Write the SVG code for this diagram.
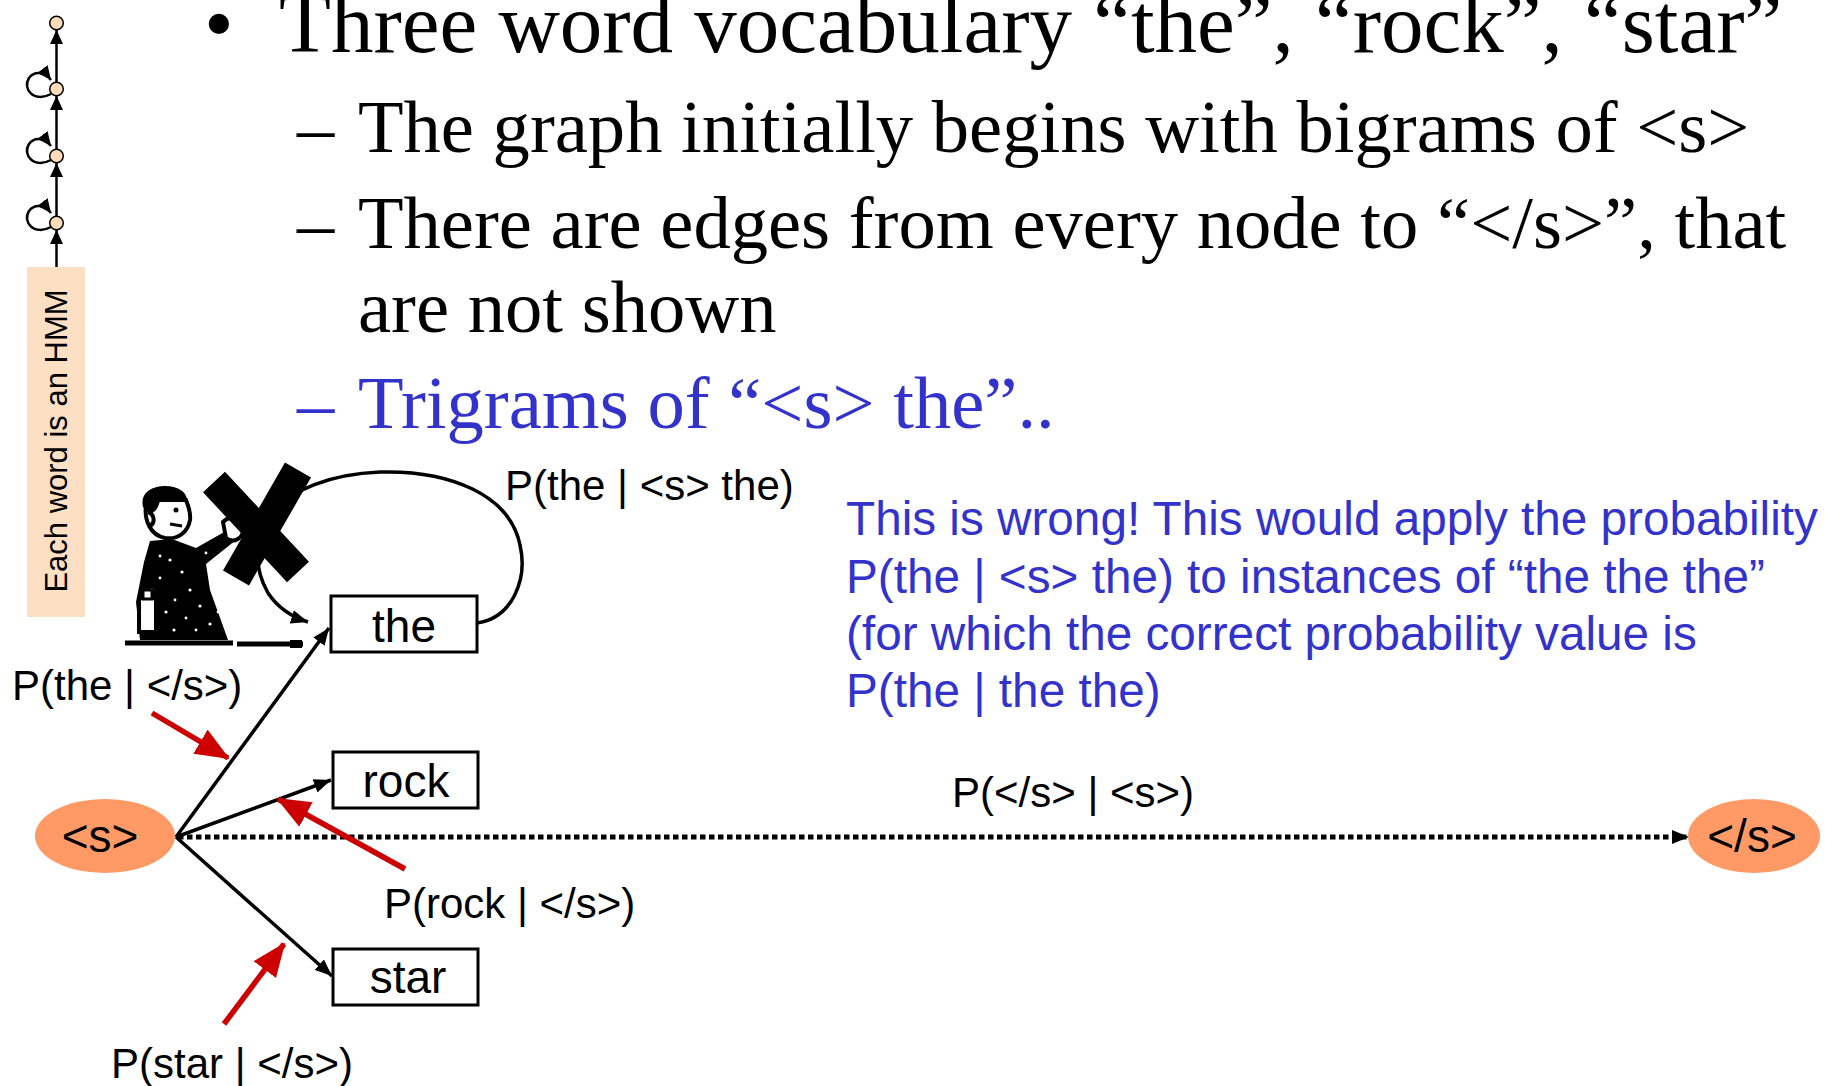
<svg xmlns="http://www.w3.org/2000/svg" width="1825" height="1086" viewBox="0 0 1825 1086">
  <style>
    .serif { font-family: "Liberation Serif", "Times New Roman", serif; fill: #000; }
    .lvl1 { font-size: 85px; }
    .lvl2 { font-size: 74.6px; }
    .sans { font-family: "Liberation Sans", Arial, sans-serif; fill: #000; }
    .lbl { font-size: 42px; }
    .word { font-size: 46px; text-anchor: middle; }
    .blue { fill: #3333CC; }
    .box { fill: #fff; stroke: #000; stroke-width: 3; }
    .edge { fill: none; stroke: #000; stroke-width: 3.5; }
    .pointer { fill: none; stroke: #CC0000; stroke-width: 5.5; }
    .state { fill: #FFDDBB; stroke: #000; stroke-width: 1.5; }
    .hmm { fill: none; stroke: #000; stroke-width: 2.5; }
    .terminal { fill: #FF9966; }
  </style>
  <defs>
    <marker id="ah" markerUnits="userSpaceOnUse" markerWidth="17" markerHeight="14" refX="17" refY="7" orient="auto">
      <path d="M0,0 L17,7 L0,14 Z" fill="#000"/>
    </marker>
    <marker id="ahSmall" markerUnits="userSpaceOnUse" markerWidth="14" markerHeight="13" refX="14" refY="6.5" orient="auto">
      <path d="M0,0 L14,6.5 L0,13 Z" fill="#000"/>
    </marker>
    <marker id="ahRed" markerUnits="userSpaceOnUse" markerWidth="34" markerHeight="28" refX="32" refY="14" orient="auto">
      <path d="M0,0 L34,14 L0,28 Z" fill="#CC0000"/>
    </marker>
  </defs>

  <rect width="1825" height="1086" fill="#fff"/>

  <!-- Slide text -->
  <g id="bullets">
    <text class="serif lvl1" x="204" y="52">•</text>
    <text class="serif lvl1" x="279" y="52">Three word vocabulary “the”, “rock”, “star”</text>
    <text class="serif lvl2" x="297" y="152">–</text>
    <text class="serif lvl2" x="358" y="152">The graph initially begins with bigrams of &lt;s&gt;</text>
    <text class="serif lvl2" x="297" y="248">–</text>
    <text class="serif lvl2" x="358" y="248">There are edges from every node to “&lt;/s&gt;”, that</text>
    <text class="serif lvl2" x="358" y="332">are not shown</text>
    <text class="serif lvl2" x="297" y="428" style="fill:#3333CC">–</text>
    <text class="serif lvl2" x="358" y="428" style="fill:#3333CC">Trigrams of “&lt;s&gt; the”..</text>
  </g>

  <!-- Word HMM sketch at the left edge -->
  <g id="word-hmm">
    <line class="hmm" x1="56.5" y1="267" x2="56.5" y2="230" marker-end="url(#ahSmall)"/>
    <line class="hmm" x1="56.5" y1="216" x2="56.5" y2="163" marker-end="url(#ahSmall)"/>
    <line class="hmm" x1="56.5" y1="149" x2="56.5" y2="96" marker-end="url(#ahSmall)"/>
    <line class="hmm" x1="56.5" y1="82" x2="56.5" y2="30" marker-end="url(#ahSmall)"/>
    <path class="hmm" d="M51,227 C34,236 22,222 29,211 C34,204 44,204 51,213" marker-end="url(#ahSmall)"/>
    <path class="hmm" d="M51,160 C34,169 22,155 29,144 C34,137 44,137 51,146" marker-end="url(#ahSmall)"/>
    <path class="hmm" d="M51,94 C34,103 22,89 29,78 C34,71 44,71 51,80" marker-end="url(#ahSmall)"/>
    <circle class="state" cx="56.5" cy="23" r="6.8"/>
    <circle class="state" cx="56.5" cy="89" r="6.8"/>
    <circle class="state" cx="56.5" cy="156" r="6.8"/>
    <circle class="state" cx="56.5" cy="223" r="6.8"/>
    <rect x="27" y="267" width="58" height="350" fill="#FDDFC3"/>
    <text class="sans" font-size="31" text-anchor="middle" transform="translate(67,441) rotate(-90)">Each word is an HMM</text>
  </g>

  <!-- Connectors -->
  <g id="connectors">
    <path class="edge" d="M477,623 C512,618 528,580 520,545 C510,495 450,470 380,472 C330,474 290,490 270,515 C252,540 255,570 268,593 C278,608 292,617 308,622" marker-end="url(#ah)"/>
    <line class="edge" x1="176" y1="837" x2="329" y2="628" marker-end="url(#ah)"/>
    <line class="edge" x1="176" y1="837" x2="331" y2="780" marker-end="url(#ah)"/>
    <line class="edge" x1="176" y1="837" x2="332" y2="976" marker-end="url(#ah)"/>
    <line x1="178" y1="837" x2="1689" y2="837" stroke="#000" stroke-width="5" stroke-dasharray="5.5 3.5" marker-end="url(#ah)"/>
    <line class="pointer" x1="152" y1="713" x2="228" y2="758" marker-end="url(#ahRed)"/>
    <line class="pointer" x1="405" y1="869" x2="278" y2="799" marker-end="url(#ahRed)"/>
    <line class="pointer" x1="224" y1="1024" x2="284" y2="944" marker-end="url(#ahRed)"/>
  </g>

  <!-- Cartoon figure holding a cross sign -->
  <g id="cartoon">
    <!-- ground -->
    <line x1="125" y1="643" x2="233" y2="643" stroke="#000" stroke-width="5"/>
    <line x1="237" y1="644" x2="303" y2="644" stroke="#000" stroke-width="5"/>
    <rect x="290" y="640" width="12" height="8" fill="#000"/>
    <!-- robe -->
    <path d="M150,541 L172,539 L196,548 L226,531 L236,540 L206,564 L210,590 L228,640 L140,640 L136,602 L144,562 Z" fill="#000"/>
    <g fill="#fff">
      <circle cx="170" cy="560" r="1.6"/><circle cx="182" cy="572" r="1.6"/><circle cx="160" cy="578" r="1.4"/>
      <circle cx="190" cy="590" r="1.6"/><circle cx="175" cy="600" r="1.4"/><circle cx="200" cy="606" r="1.6"/>
      <circle cx="166" cy="612" r="1.6"/><circle cx="186" cy="618" r="1.4"/><circle cx="210" cy="624" r="1.6"/>
      <circle cx="196" cy="630" r="1.4"/><circle cx="174" cy="630" r="1.6"/><circle cx="152" cy="590" r="1.4"/>
      <circle cx="206" cy="553" r="1.4"/><circle cx="218" cy="612" r="1.4"/><circle cx="160" cy="556" r="1.4"/>
    </g>
    <!-- bag -->
    <rect x="139" y="598" width="17" height="34" fill="#fff" stroke="#000" stroke-width="4"/>
    <rect x="143" y="590" width="9" height="9" fill="#fff" stroke="#000" stroke-width="3"/>
    <!-- head -->
    <path d="M146,505 C144,520 150,535 165,538 C178,540 188,532 190,520 C191,512 188,505 186,500 L150,500 Z" fill="#fff" stroke="#000" stroke-width="4"/>
    <path d="M143,507 C140,494 150,486 165,486 C178,486 188,492 187,502 L160,501 C158,508 156,512 150,514 Z" fill="#000"/>
    <path d="M148,512 C154,514 156,522 150,526" fill="none" stroke="#000" stroke-width="4"/>
    <circle cx="176" cy="510" r="2.5" fill="#000"/>
    <path d="M170,524 L182,526" stroke="#000" stroke-width="3"/>
    <!-- hand -->
    <path d="M223,522 C230,515 242,518 243,528 C244,538 234,544 226,538 Z" fill="#fff" stroke="#000" stroke-width="4"/>
    <!-- cross sign -->
    <line x1="214" y1="482" x2="298" y2="572" stroke="#000" stroke-width="30"/>
    <line x1="298" y1="470" x2="236" y2="578" stroke="#000" stroke-width="30"/>
  </g>

  <!-- Nodes -->
  <g id="node-s">
    <ellipse class="terminal" cx="105" cy="836" rx="70" ry="37"/>
    <text class="sans word" x="100" y="852">&lt;s&gt;</text>
  </g>
  <g id="node-end">
    <ellipse class="terminal" cx="1754" cy="836" rx="66" ry="37"/>
    <text class="sans word" x="1752" y="852">&lt;/s&gt;</text>
  </g>
  <g id="node-the">
    <rect class="box" x="331" y="596" width="146" height="56"/>
    <text class="sans word" x="404" y="642">the</text>
  </g>
  <g id="node-rock">
    <rect class="box" x="333" y="752" width="145" height="56"/>
    <text class="sans word" x="406" y="797">rock</text>
  </g>
  <g id="node-star">
    <rect class="box" x="333" y="949" width="145" height="56"/>
    <text class="sans word" x="408" y="993">star</text>
  </g>

  <!-- Edge labels -->
  <g id="labels">
    <text class="sans lbl" x="505" y="500">P(the | &lt;s&gt; the)</text>
    <text class="sans lbl" x="12" y="700">P(the | &lt;/s&gt;)</text>
    <text class="sans lbl" x="384" y="918">P(rock | &lt;/s&gt;)</text>
    <text class="sans lbl" x="111" y="1078">P(star | &lt;/s&gt;)</text>
    <text class="sans lbl" x="952" y="807">P(&lt;/s&gt; | &lt;s&gt;)</text>
  </g>

  <!-- Note -->
  <g id="note">
    <text class="sans blue" font-size="47.7" x="846" y="535">This is wrong! This would apply the probability</text>
    <text class="sans blue" font-size="47.7" x="846" y="593">P(the | &lt;s&gt; the) to instances of “the the the”</text>
    <text class="sans blue" font-size="47.7" x="846" y="650">(for which the correct probability value is</text>
    <text class="sans blue" font-size="47.7" x="846" y="707">P(the | the the)</text>
  </g>
</svg>
